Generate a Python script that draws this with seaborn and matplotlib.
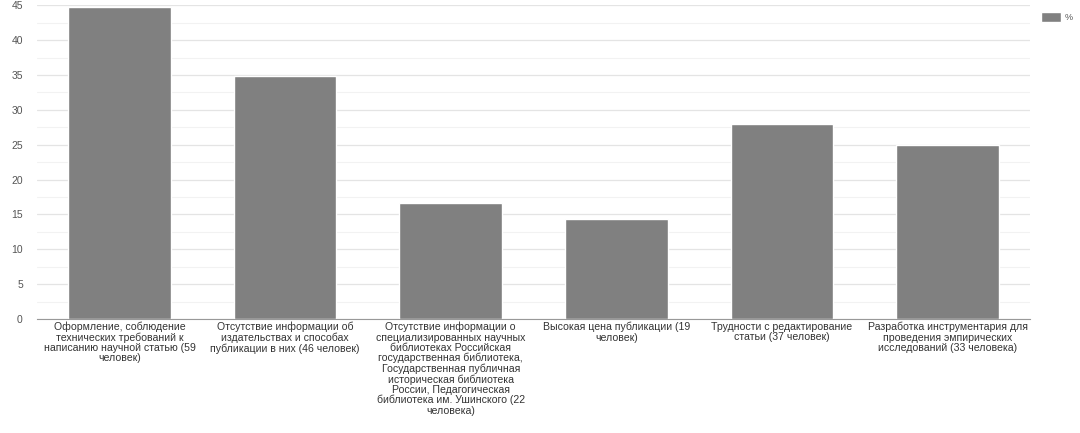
import numpy as np
import pandas as pd
import matplotlib
matplotlib.use("Agg")
import matplotlib.pyplot as plt
import seaborn as sns

# categories (x tick labels, already wrapped like in the source picture)
categories = [
    "Оформление, соблюдение\nтехнических требований к\nнаписанию научной статью (59\nчеловек)",
    "Отсутствие информации об\nиздательствах и способах\nпубликации в них (46 человек)",
    "Отсутствие информации о\nспециализированных научных\nбиблиотеках Российская\nгосударственная библиотека,\nГосударственная публичная\nисторическая библиотека\nРоссии, Педагогическая\nбиблиотека им. Ушинского (22\nчеловека)",
    "Высокая цена публикации (19\nчеловек)",
    "Трудности с редактирование\nстатьи (37 человек)",
    "Разработка инструментария для\nпроведения эмпирических\nисследований (33 человека)",
]
percent = [44.7, 34.8, 16.7, 14.4, 28.0, 25.0]
series_name = "%"

df = pd.DataFrame({"cat": categories, "val": percent, "series": series_name})

sns.set_style("white")
plt.rcParams['font.family'] = ['Liberation Sans', 'DejaVu Sans']

fig = plt.figure(figsize=(10.8, 4.33), dpi=100)
ax = fig.add_axes([0.034, 0.263, 0.92, 0.725])

sns.barplot(data=df, x="cat", y="val", hue="series", palette=["#808080"],
            width=0.62, ax=ax, saturation=1, legend=True)

ax.set_ylim(0, 45)
ax.set_yticks(np.arange(0, 46, 5))
ax.set_yticks(np.arange(2.5, 45, 5), minor=True)
ax.grid(axis="y", which="major", color="#e4e4e4", linewidth=0.9)
ax.grid(axis="y", which="minor", color="#f2f2f2", linewidth=0.8)
ax.set_axisbelow(True)
ax.set_xlabel("")
ax.set_ylabel("")
for s in ["top", "right", "left"]:
    ax.spines[s].set_visible(False)
ax.spines["bottom"].set_color("#999999")
ax.tick_params(axis="y", length=0, labelsize=7.5, labelcolor="#555555", pad=10)
ax.tick_params(axis="x", length=0, labelsize=7.6, labelcolor="#333333", pad=2)
ax.set_xticks(range(len(categories)))
ax.set_xticklabels(categories, va="top", ha="center", linespacing=1.02)

leg = ax.legend(loc="upper left", bbox_to_anchor=(1.003, 1.005), frameon=False,
                fontsize=6.5, handlelength=2.2, handleheight=1.3, handletextpad=0.4,
                labelcolor="#555555")

fig.savefig("out.png", dpi=100)
